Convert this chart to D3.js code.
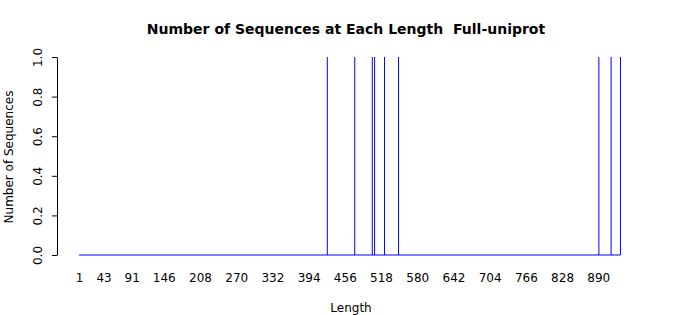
<!DOCTYPE html>
<html><head><meta charset="utf-8">
<script src="https://cdn.jsdelivr.net/npm/d3@7"></script>
<style>
html,body{margin:0;padding:0;background:#fff;}
svg{display:block;font-family:"DejaVu Sans",sans-serif;}
</style></head>
<body>
<svg id="chart" width="700" height="315"></svg>
<script>
// Data
const lengths = [426, 473, 503, 507, 524, 548, 891, 912, 928];
const counts  = [1, 1, 1, 1, 1, 1, 1, 1, 1];
const lengthRange = [1, 928];
const xTickLabels = [1, 43, 91, 146, 208, 270, 332, 394, 456, 518, 580, 642, 704, 766, 828, 890];
const yTickLabels = [0.0, 0.2, 0.4, 0.6, 0.8, 1.0];
const titleText = "Number of Sequences at Each Length  Full-uniprot";

const svg = d3.select("#chart");
const x = d3.scaleLinear().domain(lengthRange).range([79.1, 79.1 + (928 - 1) * 0.584]);
const y = d3.scaleLinear().domain([0, 1]).range([255, 57]);

// baseline of the series
svg.append("line")
  .attr("x1", x(lengthRange[0])).attr("x2", x(lengthRange[1]))
  .attr("y1", y(0)).attr("y2", y(0))
  .attr("stroke", "#0000ff").attr("stroke-width", 1);

// spikes
svg.append("g").selectAll("line").data(lengths).join("line")
  .attr("x1", d => x(d)).attr("x2", d => x(d))
  .attr("y1", y(0)).attr("y2", (d, i) => y(counts[i]))
  .attr("stroke", "#0000ff").attr("stroke-width", 1);

// y axis
const yAxis = d3.axisLeft(y).tickValues(yTickLabels).tickFormat(d3.format(".1f")).tickSize(5).tickSizeOuter(0);
const yg = svg.append("g").attr("transform", "translate(57,0)").call(yAxis);
yg.select(".domain").attr("stroke", "#000");
yg.selectAll(".tick line").attr("stroke", "#000");
yg.selectAll(".tick text")
  .attr("font-size", 12).attr("font-family", "DejaVu Sans").attr("fill", "#000")
  .attr("x", null).attr("dy", null)
  .attr("text-anchor", "middle")
  .attr("transform", "translate(-19,0) rotate(-90)")
  .attr("dy", "0.35em");

// x axis labels (no line, no ticks)
const xAxis = d3.axisBottom(x).tickValues(xTickLabels).tickFormat(d => d).tickSize(0);
const xg = svg.append("g").attr("transform", "translate(0,270)").call(xAxis);
xg.select(".domain").remove();
xg.selectAll(".tick text").attr("font-size", 12).attr("font-family", "DejaVu Sans").attr("fill", "#000").attr("dy", "0.71em").attr("y", 3);

// title
svg.append("text").attr("x", 346).attr("y", 34).attr("text-anchor", "middle")
  .attr("font-size", 14).attr("font-weight", "bold").style("white-space", "pre")
  .text(titleText);

// axis titles
svg.append("text").attr("x", 351).attr("y", 312).attr("text-anchor", "middle")
  .attr("font-size", 12).text("Length");
svg.append("text").attr("transform", "translate(13,157) rotate(-90)").attr("text-anchor", "middle")
  .attr("font-size", 12).text("Number of Sequences");
</script>
</body></html>
